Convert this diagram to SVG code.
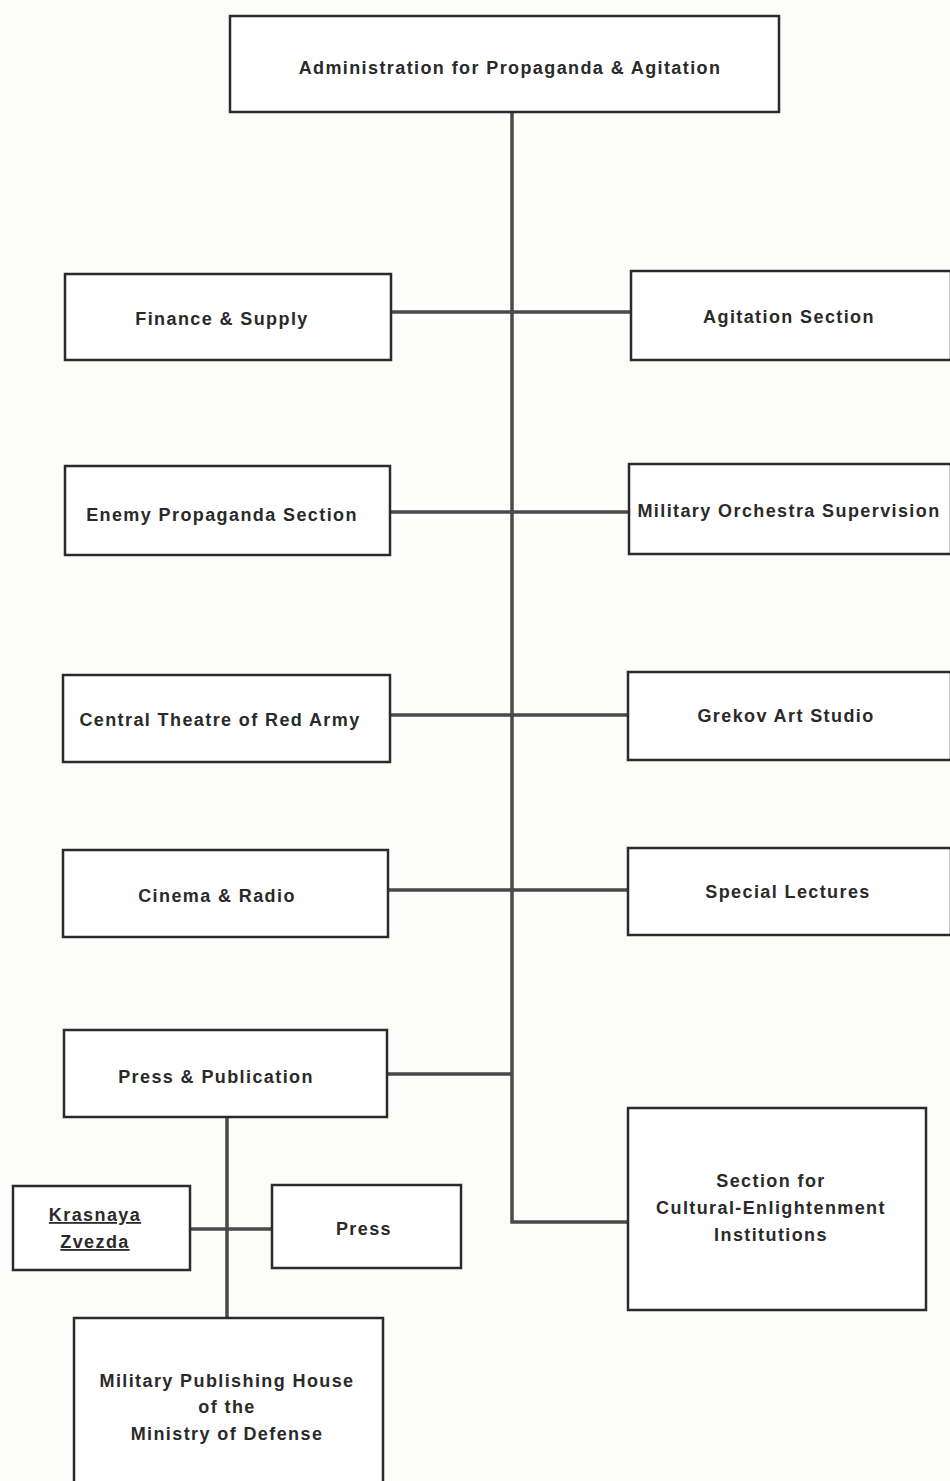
<svg xmlns="http://www.w3.org/2000/svg" width="950" height="1481" viewBox="0 0 950 1481">
<style>
.box{fill:#ffffff;stroke:#2a2a2a;stroke-width:2.5}
.t{font-family:"Liberation Sans",Arial,sans-serif;font-weight:bold;font-size:18px;fill:#2a2a2a;text-anchor:middle;letter-spacing:1.4px}
.c{fill:none;stroke:#4a4a4a;stroke-width:3.5}
</style>
<rect width="950" height="1481" fill="#fcfcfa"/>
<g id="connectors">
<path class="c" d="M512,112 V1222 H628"/>
<path class="c" d="M391,312 H631"/>
<path class="c" d="M390,512 H629"/>
<path class="c" d="M390,715 H628"/>
<path class="c" d="M388,890 H628"/>
<path class="c" d="M387,1074 H512"/>
<path class="c" d="M227,1117 V1318"/>
<path class="c" d="M190,1229 H272"/>
</g>
<g id="admin"><rect class="box" x="230" y="16" width="549" height="96"/><text class="t" x="510" y="74">Administration for Propaganda &amp; Agitation</text></g>
<g id="finance"><rect class="box" x="65" y="274" width="326" height="86"/><text class="t" x="222" y="325">Finance &amp; Supply</text></g>
<g id="agitation"><rect class="box" x="631" y="271" width="320" height="89"/><text class="t" x="789" y="323">Agitation Section</text></g>
<g id="enemy"><rect class="box" x="65" y="466" width="325" height="89"/><text class="t" x="222" y="521">Enemy Propaganda Section</text></g>
<g id="orchestra"><rect class="box" x="629" y="464" width="322" height="90"/><text class="t" x="789" y="517">Military Orchestra Supervision</text></g>
<g id="theatre"><rect class="box" x="63" y="675" width="327" height="87"/><text class="t" x="220" y="726">Central Theatre of Red Army</text></g>
<g id="grekov"><rect class="box" x="628" y="672" width="323" height="88"/><text class="t" x="786" y="722">Grekov Art Studio</text></g>
<g id="cinema"><rect class="box" x="63" y="850" width="325" height="87"/><text class="t" x="217" y="902">Cinema &amp; Radio</text></g>
<g id="lectures"><rect class="box" x="628" y="848" width="323" height="87"/><text class="t" x="788" y="898">Special Lectures</text></g>
<g id="press-pub"><rect class="box" x="64" y="1030" width="323" height="87"/><text class="t" x="216" y="1083">Press &amp; Publication</text></g>
<g id="cultural"><rect class="box" x="628" y="1108" width="298" height="202"/><text class="t" x="771" y="1187">Section for</text><text class="t" x="771" y="1214">Cultural-Enlightenment</text><text class="t" x="771" y="1241">Institutions</text></g>
<g id="krasnaya"><rect class="box" x="13" y="1186" width="177" height="84"/><text class="t" x="95" y="1221" text-decoration="underline">Krasnaya</text><text class="t" x="95" y="1248" text-decoration="underline">Zvezda</text></g>
<g id="press"><rect class="box" x="272" y="1185" width="189" height="83"/><text class="t" x="364" y="1235">Press</text></g>
<g id="publishing"><rect class="box" x="74" y="1318" width="309" height="170"/><text class="t" x="227" y="1387">Military Publishing House</text><text class="t" x="227" y="1413">of the</text><text class="t" x="227" y="1440">Ministry of Defense</text></g>
</svg>
